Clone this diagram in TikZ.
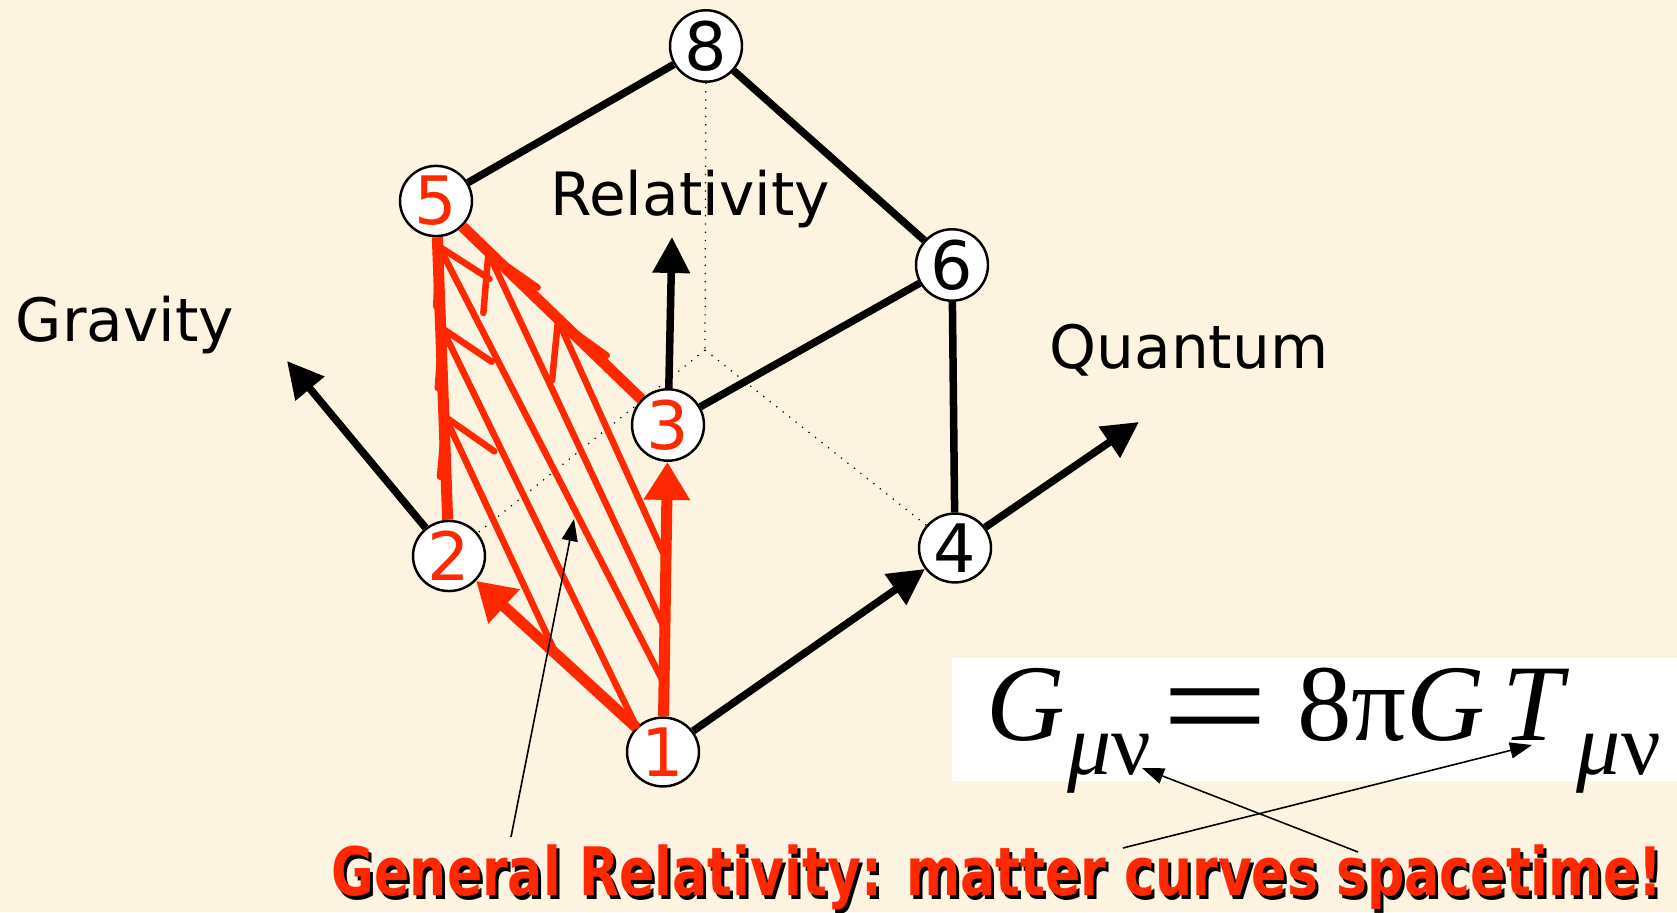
\documentclass[tikz,border=0pt]{standalone}
\usepackage{fontspec}
\usepackage{tikz}
\usetikzlibrary{shapes.geometric, arrows.meta, positioning, calc}
\newfontfamily\comicfont{DejaVu Sans}
\newfontfamily\eqfont{Liberation Serif}
\definecolor{myred}{RGB}{255,40,0}
\definecolor{mycream}{RGB}{252,243,224}
\tikzset{
  vtx/.style={ellipse, draw=black, fill=white, line width=0.7pt,
    minimum width=7.2mm, minimum height=6.6mm, inner sep=0pt,
    font=\comicfont\fontsize{19}{19}\selectfont},
  redvtx/.style={vtx, text=myred},
  cubeline/.style={line width=0.75mm, color=black},
  dotline/.style={dotted, line width=0.35pt, color=black},
  axisarrow/.style={-{Triangle[length=3.6mm,width=3.6mm]}, line width=0.75mm, color=black},
  redline/.style={line width=1.1mm, color=myred},
  redarrow/.style={-{Triangle[length=3.8mm,width=4.4mm]}, line width=1.1mm, color=myred},
  hatcharrow/.style={-{Straight Barb[length=5.2mm,width=6mm,round]}, line width=0.65mm, color=myred},
  pointer/.style={-{Triangle[length=2.2mm,width=1.6mm]}, line width=0.45pt, color=black},
  axislabel/.style={anchor=base, font=\comicfont\fontsize{17}{17}\selectfont},
  captionfont/.style={anchor=base, font=\comicfont\bfseries\fontsize{19}{19}\selectfont}
}

\begin{document}
\begin{tikzpicture}
  \fill[mycream] (0,0) rectangle (16.77,9.12);
  \useasboundingbox (0,0) rectangle (16.77,9.12);
  % cube corners
  \node[redvtx] (n1) at (6.63,1.60) {1};
  \node[redvtx] (n2) at (4.49,3.56) {2};
  \node[redvtx] (n3) at (6.68,4.87) {3};
  \node[vtx] (n4) at (9.55,3.64) {4};
  \node[redvtx] (n5) at (4.36,7.11) {5};
  \node[vtx] (n6) at (9.52,6.47) {6};
  \node[vtx] (n8) at (7.06,8.66) {8};
  \coordinate (back) at (7.05,5.62);
  % hidden edges
  \draw[dotline] (n8) -- (back);
  \draw[dotline] (back) -- (n2);
  \draw[dotline] (back) -- (n4);
  % visible edges
  \draw[cubeline] (n5) -- (n8);
  \draw[cubeline] (n8) -- (n6);
  \draw[cubeline] (n6) -- (n3);
  \draw[cubeline] (n6) -- (n4);
  \draw[axisarrow] (n1) -- (n4);
  % axes
  \coordinate (gtip) at (2.87,5.51);
  \coordinate (rtip) at (6.72,6.75);
  \coordinate (qtip) at (11.39,4.90);
  \draw[axisarrow] (n2) -- (gtip);
  \draw[axisarrow] (n3) -- (rtip);
  \draw[axisarrow] (n4) -- (qtip);
  \node[axislabel] (gravity) at (1.25,5.70) {Gravity};
  \node[axislabel] (relativity) at (6.90,6.96) {Relativity};
  \node[axislabel] (quantum) at (11.89,5.43) {Quantum};
  % red face 1-2-5-3
  \draw[redline] (n2) -- (n5);
  \draw[redline] (n3) -- (n5);
  \draw[redarrow] (n1) -- (n2);
  \draw[redarrow] (n1) -- (n3);
  % hatching
  \draw[hatcharrow] ($(n1)!0.50!(n2)$) -- ($(n2)!0.40!(n5)$);
  \draw[hatcharrow] ($(n1)!0.12!(n2)$) -- ($(n2)!0.65!(n5)$);
  \draw[hatcharrow] ($(n1)!0.21!(n3)$) -- ($(n2)!0.88!(n5)$);
  \draw[hatcharrow] ($(n1)!0.375!(n3)$) -- ($(n3)!0.78!(n5)$);
  \draw[hatcharrow] ($(n1)!0.59!(n3)$) -- ($(n3)!0.48!(n5)$);
  % field equation
  \fill[white] (9.52,1.31) rectangle (16.77,2.54);
  \node[anchor=base west, inner sep=0pt, font=\eqfont\fontsize{31}{31}\selectfont] (einstein) at (9.86,1.71)
    {\textit{G}\kern0.5pt\raisebox{-9.6pt}{\fontsize{25}{25}\selectfont\textit{μ}ν}\kern3pt\raisebox{-1.2mm}{\scalebox{1.75}[1.3]{=}}\kern8pt 8π\textit{G}\kern5pt\textit{T}\kern2pt\raisebox{-9.6pt}{\fontsize{25}{25}\selectfont\textit{μ}ν}};
  % caption
  \node[captionfont, text=black] (grshadow) at (10.0,0.13)
    {\scalebox{0.78}[1]{General Relativity: matter curves spacetime!}};
  \node[captionfont, text=myred] (grtext) at (9.97,0.16)
    {\scalebox{0.78}[1]{General Relativity: matter curves spacetime!}};
  % pointers
  \coordinate (hatchfrom) at (5.11,0.75);
  \coordinate (hatchto) at (5.74,3.93);
  \coordinate (gfrom) at (13.58,0.60);
  \coordinate (gto) at (11.42,1.44);
  \coordinate (tfrom) at (11.23,0.64);
  \coordinate (tto) at (15.32,1.67);
  \draw[pointer] (hatchfrom) -- (hatchto);
  \draw[pointer] (gfrom) -- (gto);
  \draw[pointer] (tfrom) -- (tto);
\end{tikzpicture}
\end{document}
